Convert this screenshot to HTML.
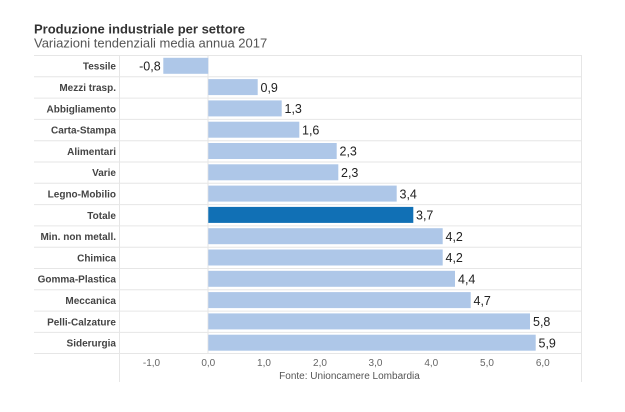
<!DOCTYPE html>
<html><head><meta charset="utf-8"><style>
html,body{margin:0;padding:0;background:#fff;}
svg{display:block;font-family:"Liberation Sans",Arial,sans-serif;}
</style></head><body>
<svg width="625" height="412" viewBox="0 0 625 412" xmlns="http://www.w3.org/2000/svg">
<rect width="625" height="412" fill="#fff"/>
<text x="34" y="33.5" font-size="13" font-weight="bold" fill="#333">Produzione industriale per settore</text>
<text x="34" y="47.7" font-size="13" fill="#555">Variazioni tendenziali media annua 2017</text>
<g stroke="#e6e6e6" stroke-width="1">
<line x1="34" y1="55.5" x2="581" y2="55.5"/>
<line x1="34" y1="76.8" x2="581" y2="76.8"/>
<line x1="34" y1="98.1" x2="581" y2="98.1"/>
<line x1="34" y1="119.4" x2="581" y2="119.4"/>
<line x1="34" y1="140.7" x2="581" y2="140.7"/>
<line x1="34" y1="162" x2="581" y2="162"/>
<line x1="34" y1="183.3" x2="581" y2="183.3"/>
<line x1="34" y1="204.6" x2="581" y2="204.6"/>
<line x1="34" y1="225.9" x2="581" y2="225.9"/>
<line x1="34" y1="247.2" x2="581" y2="247.2"/>
<line x1="34" y1="268.5" x2="581" y2="268.5"/>
<line x1="34" y1="289.8" x2="581" y2="289.8"/>
<line x1="34" y1="311.1" x2="581" y2="311.1"/>
<line x1="34" y1="332.4" x2="581" y2="332.4"/>
<line x1="34" y1="353.5" x2="581" y2="353.5"/>
<line x1="119.5" y1="55" x2="119.5" y2="382"/>
<line x1="581.5" y1="55" x2="581.5" y2="382"/>
<line x1="208" y1="55" x2="208" y2="353"/>
</g>
<g fill="#aec7e8">
<rect x="163.3" y="57.8" width="45" height="16"/>
<rect x="208.3" y="79.1" width="49.4" height="16"/>
<rect x="208.3" y="100.4" width="73.4" height="16"/>
<rect x="208.3" y="121.7" width="91" height="16"/>
<rect x="208.3" y="143" width="128.4" height="16"/>
<rect x="208.3" y="164.3" width="130" height="16"/>
<rect x="208.3" y="185.6" width="188.4" height="16"/>
<rect x="208.3" y="228.2" width="234.4" height="16"/>
<rect x="208.3" y="249.5" width="234.4" height="16"/>
<rect x="208.3" y="270.8" width="246.7" height="16"/>
<rect x="208.3" y="292.1" width="262.4" height="16"/>
<rect x="208.3" y="313.4" width="321.7" height="16"/>
<rect x="208.3" y="334.7" width="327.4" height="16"/>
</g>
<rect x="208.3" y="206.9" width="205" height="16" fill="#1170b5"/>
<g font-size="10" font-weight="bold" fill="#444" text-anchor="end">
<text x="116" y="69.7">Tessile</text>
<text x="116" y="91">Mezzi trasp.</text>
<text x="116" y="112.3">Abbigliamento</text>
<text x="116" y="133.6">Carta-Stampa</text>
<text x="116" y="154.9">Alimentari</text>
<text x="116" y="176.2">Varie</text>
<text x="116" y="197.5">Legno-Mobilio</text>
<text x="116" y="218.8">Totale</text>
<text x="116" y="240.1">Min. non metall.</text>
<text x="116" y="261.4">Chimica</text>
<text x="116" y="282.7">Gomma-Plastica</text>
<text x="116" y="304">Meccanica</text>
<text x="116" y="325.3">Pelli-Calzature</text>
<text x="116" y="346.6">Siderurgia</text>
</g>
<g font-size="12.5" fill="#222">
<text x="160.7" y="70.5" text-anchor="end">-0,8</text>
<text x="260.5" y="91.8">0,9</text>
<text x="284.5" y="113.1">1,3</text>
<text x="302" y="134.4">1,6</text>
<text x="339.5" y="155.7">2,3</text>
<text x="341" y="177">2,3</text>
<text x="399.5" y="198.3">3,4</text>
<text x="416" y="219.6">3,7</text>
<text x="445.5" y="240.9">4,2</text>
<text x="445.5" y="262.2">4,2</text>
<text x="458" y="283.5">4,4</text>
<text x="473.5" y="304.8">4,7</text>
<text x="533" y="326.1">5,8</text>
<text x="538.5" y="347.4">5,9</text>
</g>
<g font-size="10" fill="#666" text-anchor="middle">
<text x="151.5" y="366">-1,0</text>
<text x="208.3" y="366">0,0</text>
<text x="264" y="366">1,0</text>
<text x="320" y="366">2,0</text>
<text x="375.5" y="366">3,0</text>
<text x="431.3" y="366">4,0</text>
<text x="487" y="366">5,0</text>
<text x="542.8" y="366">6,0</text>
</g>
<text x="349.5" y="379" font-size="10" fill="#555" text-anchor="middle">Fonte: Unioncamere Lombardia</text>
</svg>
</body></html>
